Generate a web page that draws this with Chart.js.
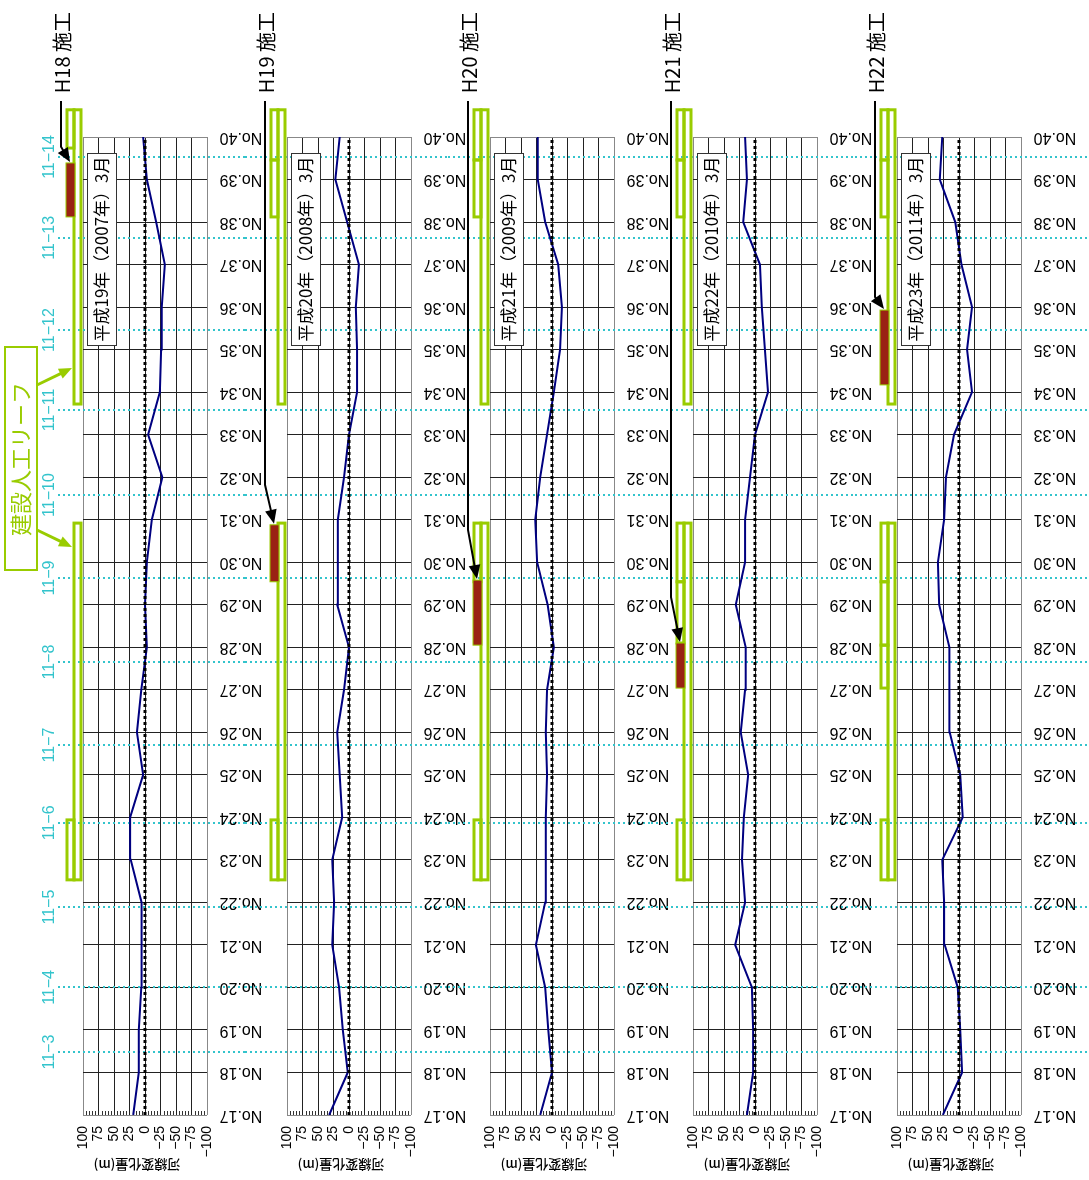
<!DOCTYPE html>
<html>
<head>
<meta charset="utf-8">
<script src="https://cdn.jsdelivr.net/npm/chart.js@4.4.1/dist/chart.umd.min.js"></script>
<style>
body { margin: 0; background: #fff; }
#wrap { position: relative; width: 1089px; height: 1180px; }
#wrap canvas { position: absolute; left: 0; top: 0; }
</style>
</head>
<body>
<div id="wrap"></div>
<script>
"use strict"

// stations No.17 .. No.40 (bottom to top)
let stations = [17, 18, 19, 20, 21, 22, 23, 24, 25, 26, 27, 28, 29, 30, 31, 32, 33, 34, 35, 36, 37, 38, 39, 40];
let valueTicks = [100, 75, 50, 25, 0, -25, -50, -75, -100];

let works = ['H18 施工', 'H19 施工', 'H20 施工', 'H21 施工', 'H22 施工'];
let surveys = ['平成19年（2007年）3月', '平成20年（2008年）3月', '平成21年（2009年）3月', '平成22年（2010年）3月', '平成23年（2011年）3月'];

// 河線変化量 (m), No.17 -> No.40
let shiftH18 = [19, 10, 10, 6, 5, 6, 23, 24, 3, 13, 6, -3, 0, -3, -11, -28, -5, -24, -26, -27, -32, -18, -3, 3];
let shiftH19 = [32, 2, 10, 16, 27, 24, 27, 11, 15, 19, 8, 0, 19, 18, 18, 8, 0, -13, -13, -11, -16, 3, 22, 15];
let shiftH20 = [19, 0, 6, 11, 26, 11, 10, 10, 8, 10, 8, -3, 7, 24, 27, 19, 8, -3, -13, -16, -10, 11, 23, 23];
let shiftH21 = [13, 3, 3, 5, 32, 16, 21, 18, 11, 23, 16, 15, 31, 16, 16, 8, 0, -21, -16, -11, -8, 19, 13, 16];
let shiftH22 = [26, -5, -2, 2, 23, 24, 27, -6, -2, 15, 15, 16, 32, 34, 24, 21, 8, -21, -13, -21, -4, 6, 31, 27];
let shifts = [shiftH18, shiftH19, shiftH20, shiftH21, shiftH22];

// survey line markers (station position)
let markLabels = ['11−14', '11−13', '11−12', '11−11', '11−10', '11−9', '11−8', '11−7', '11−6', '11−5', '11−4', '11−3'];
let markPos = [39.53, 37.63, 35.46, 33.58, 31.58, 29.63, 27.65, 25.70, 23.87, 21.89, 20.0, 18.48];

// reef ranges (station from, to)
let reefMain = [[40.64, 33.72], [30.92, 22.53]];
let reefSide = [
    [[40.64, 39.74], [23.94, 22.53]],
    [[40.64, 39.46], [39.46, 38.12], [23.94, 22.53]],
    [[40.64, 39.46], [39.46, 38.12], [30.92, 29.54], [23.94, 22.53]],
    [[40.64, 39.46], [39.46, 38.12], [30.92, 29.54], [29.54, 28.1], [23.94, 22.53]],
    [[40.64, 39.46], [39.46, 38.12], [30.92, 29.54], [29.54, 28.05], [28.05, 27.04], [23.94, 22.53]]
];
let built = [[39.39, 38.12], [30.88, 29.54], [29.58, 28.05], [28.1, 27.04], [35.93, 34.17]];
let arrowBend = [39.77, 31.82, 30.76, 29.18, 36.24];

let zeroX = [145, 349, 552, 755, 959]; // where each panel sits
let W = 1089, H = 1180;
let green = '#99cc00';
let cyan = '#33c4cc';
let jp = '"Noto Sans CJK JP", "Noto Sans", sans-serif';
let lat = '"Liberation Sans", Arial, sans-serif';

function rotText(ctx, txt, x, y, angle, align, font, color) {
    ctx.save();
    ctx.translate(x, y);
    ctx.rotate(angle);
    ctx.font = font;
    ctx.fillStyle = color;
    ctx.textAlign = align;
    ctx.textBaseline = 'middle';
    ctx.fillText(txt, 0, 0);
    ctx.restore();
}

function arrow(ctx, pts, color, width, head) {
    let n = pts.length;
    let [tx, ty] = pts[n - 1];
    let [px, py] = pts[n - 2];
    let len = Math.hypot(tx - px, ty - py);
    let dx = (tx - px) / len, dy = (ty - py) / len;
    ctx.save();
    ctx.strokeStyle = color;
    ctx.fillStyle = color;
    ctx.lineWidth = width;
    ctx.beginPath();
    ctx.moveTo(pts[0][0], pts[0][1]);
    for (let i = 1; i < n - 1; i++) ctx.lineTo(pts[i][0], pts[i][1]);
    ctx.lineTo(tx - dx * head * 0.8, ty - dy * head * 0.8);
    ctx.stroke();
    ctx.beginPath();
    ctx.moveTo(tx, ty);
    ctx.lineTo(tx - dx * head - dy * head * 0.42, ty - dy * head + dx * head * 0.42);
    ctx.lineTo(tx - dx * head + dy * head * 0.42, ty - dy * head - dx * head * 0.42);
    ctx.closePath();
    ctx.fill();
    ctx.restore();
}

function deco(k) {
    return {
        id: 'deco' + k,
        beforeDatasetsDraw(chart) {
            let ctx = chart.ctx;
            let x = chart.scales.x, y = chart.scales.y;
            let area = chart.chartArea;
            // minor ticks along the bottom
            ctx.save();
            ctx.strokeStyle = '#333';
            ctx.lineWidth = 1;
            for (let v = -100; v <= 100; v += 5) {
                if (v % 25 === 0) continue;
                let px = Math.round(x.getPixelForValue(v)) + 0.5;
                ctx.beginPath();
                ctx.moveTo(px, area.bottom);
                ctx.lineTo(px, area.bottom - 4);
                ctx.stroke();
            }
            // cyan survey lines, each canvas covers its own strip
            let from = k === 0 ? 58 : area.left - 42;
            let to = k === 4 ? W : zeroX[k + 1] - 62 - 42;
            ctx.strokeStyle = cyan;
            ctx.lineWidth = 2;
            ctx.setLineDash([2, 3]);
            markPos.forEach(s => {
                let py = Math.round(y.getPixelForValue(s));
                ctx.beginPath();
                ctx.moveTo(from, py);
                ctx.lineTo(to, py);
                ctx.stroke();
            });
            ctx.restore();
        },
        afterDraw(chart) {
            let ctx = chart.ctx;
            let x = chart.scales.x, y = chart.scales.y;
            let area = chart.chartArea;
            let L = area.left, R = area.right;

            // reef outlines
            ctx.save();
            ctx.strokeStyle = green;
            ctx.lineWidth = 3;
            reefMain.forEach(r => {
                let t = y.getPixelForValue(r[0]), b = y.getPixelForValue(r[1]);
                ctx.strokeRect(L - 9, t, 7, b - t);
            });
            reefSide[k].forEach(r => {
                let t = y.getPixelForValue(r[0]), b = y.getPixelForValue(r[1]);
                ctx.strokeRect(L - 16, t, 7, b - t);
            });
            // this year's works
            let bt = y.getPixelForValue(built[k][0]), bb = y.getPixelForValue(built[k][1]);
            ctx.fillStyle = '#9a2214';
            ctx.fillRect(L - 17, bt, 9, bb - bt);
            ctx.lineWidth = 1;
            ctx.strokeRect(L - 17, bt, 9, bb - bt);
            ctx.restore();

            // label + arrow
            rotText(ctx, works[k], L - 21, 12, -Math.PI / 2, 'right', '20px ' + jp, '#000');
            let ax = L - 22;
            arrow(ctx, [[ax, 101], [ax, y.getPixelForValue(arrowBend[k])], [L - 13, bt - 1]], '#000', 2, 14);

            // survey date box
            ctx.save();
            ctx.fillStyle = '#fff';
            ctx.fillRect(L + 4.5, area.top + 16.5, 29, 192);
            ctx.strokeStyle = '#333';
            ctx.lineWidth = 1;
            ctx.strokeRect(L + 4.5, area.top + 16.5, 29, 192);
            ctx.restore();
            rotText(ctx, surveys[k], L + 19, area.top + 112, -Math.PI / 2, 'center', '17px ' + jp, '#000');

            // station labels (upside down)
            stations.forEach(s => {
                rotText(ctx, 'No.' + s, R + 34, y.getPixelForValue(s), Math.PI, 'center', '16px ' + lat, '#000');
            });
            // value ticks
            valueTicks.forEach(v => {
                let txt = v < 0 ? '−' + (-v) : String(v);
                rotText(ctx, txt, x.getPixelForValue(v), area.bottom + 11, -Math.PI / 2, 'right', '14px ' + lat, '#000');
            });
            rotText(ctx, '河線変化量(m)', x.getPixelForValue(0) - 8, area.bottom + 50, Math.PI, 'center', '500 13px ' + jp, '#000');

            if (k === 0) {
                markPos.forEach((s, i) => {
                    rotText(ctx, markLabels[i], 50, y.getPixelForValue(s), -Math.PI / 2, 'center', '16px ' + lat, cyan);
                });
                ctx.save();
                ctx.fillStyle = '#fff';
                ctx.fillRect(5, 347, 32, 223);
                ctx.strokeStyle = green;
                ctx.lineWidth = 2;
                ctx.strokeRect(5, 347, 32, 223);
                ctx.restore();
                rotText(ctx, '建設人工リーフ', 21, 459, -Math.PI / 2, 'center', '22px ' + jp, green);
                arrow(ctx, [[37, 385], [72, 368]], green, 3, 13);
                arrow(ctx, [[37, 530], [72, 547]], green, 3, 13);
            }
        }
    };
}

let wrap = document.getElementById('wrap');

for (let k = 0; k < 5; k++) {
    let canvas = document.createElement('canvas');
    canvas.width = W;
    canvas.height = H;
    wrap.appendChild(canvas);

    let L = zeroX[k] - 62, R = zeroX[k] + 62;

    new Chart(canvas, {
        type: 'scatter',
        data: {
            datasets: [
                {
                    data: [{ x: 0, y: stations[0] }, { x: 0, y: stations[stations.length - 1] }],
                    showLine: true,
                    borderColor: '#000',
                    borderWidth: 3,
                    borderDash: [3, 3],
                    pointRadius: 0
                },
                {
                    data: stations.map((s, i) => ({ x: shifts[k][i], y: s })),
                    showLine: true,
                    borderColor: '#000080',
                    borderWidth: 2,
                    pointRadius: 0,
                    tension: 0
                }
            ]
        },
        options: {
            responsive: false,
            animation: false,
            devicePixelRatio: 1,
            layout: { padding: { left: L, right: W - R, top: 137, bottom: H - 1115 } },
            plugins: { legend: { display: false }, tooltip: { enabled: false } },
            scales: {
                x: {
                    type: 'linear',
                    min: -100,
                    max: 100,
                    reverse: true,
                    ticks: { display: false, stepSize: 25, maxTicksLimit: 100 },
                    grid: { drawTicks: false, color: c => Math.abs(c.tick.value) === 100 ? '#888' : '#222' },
                    border: { display: false },
                    afterFit: s => { s.height = 0; }
                },
                y: {
                    type: 'linear',
                    min: 17,
                    max: 40,
                    ticks: { display: false, stepSize: 1, maxTicksLimit: 100 },
                    grid: { drawTicks: false, color: c => (c.tick.value === 17 || c.tick.value === 40) ? '#888' : '#222' },
                    border: { display: false },
                    afterFit: s => { s.width = 0; }
                }
            }
        },
        plugins: [deco(k)]
    });
}
</script>
</body>
</html>
